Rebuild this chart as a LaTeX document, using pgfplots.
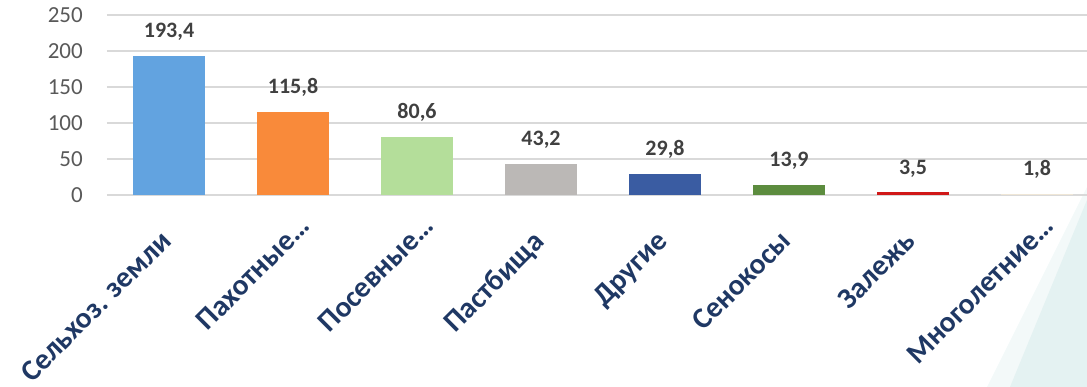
\documentclass[border=0pt]{standalone}
\usepackage{pgfplots}
\pgfplotsset{compat=1.18}
\usepackage{fontspec}
\setmainfont{Carlito}
\definecolor{c1}{HTML}{62A3E0}
\definecolor{c2}{HTML}{F98A3A}
\definecolor{c3}{HTML}{B4DE9A}
\definecolor{c4}{HTML}{BBB8B6}
\definecolor{c5}{HTML}{3A5CA2}
\definecolor{c6}{HTML}{5C8C3E}
\definecolor{c7}{HTML}{D01818}
\definecolor{c8}{HTML}{EFE6D6}
\definecolor{navy}{HTML}{1F3864}
\definecolor{ticktxt}{HTML}{595959}
\definecolor{lbl}{HTML}{404040}
\definecolor{gridc}{HTML}{D9D9D9}
\definecolor{tealbg}{HTML}{E4F2F2}
\definecolor{tealbg2}{HTML}{F3F9F9}
\begin{document}
\begin{tikzpicture}
\useasboundingbox (-107pt,-192pt) rectangle (980pt,195pt);
\fill[tealbg2] (880pt,-192pt) -- (980pt,8pt) -- (980pt,-192pt) -- cycle;
\fill[tealbg] (903pt,-192pt) -- (980pt,-5pt) -- (980pt,-192pt) -- cycle;
\begin{axis}[
  at={(0pt,0pt)}, anchor=south west,
  scale only axis, width=980pt, height=180pt,
  xmin=-0.5, xmax=7.403, ymin=0, ymax=250,
  ybar, bar width=72pt,
  axis line style={draw=none},
  major tick length=0pt,
  ytick={0,50,...,250},
  ymajorgrids, major grid style={color=gridc, line width=1.5pt},
  xtick={0,1,2,3,4,5,6,7},
  xticklabels={{Сельхоз. земли}, {Пахотные\rlap{…}}, {Посевные\rlap{…}}, {Пастбища}, {Другие}, {Сенокосы}, {Залежь}, {Многолетние\rlap{…}}},
  x tick label style={xshift=-10pt, yshift=-34pt, rotate=45, anchor=north east, inner sep=0pt, font=\bfseries\fontsize{29.5}{34}\selectfont, text=navy},
  y tick label style={font=\fontsize{23}{27}\selectfont, text=ticktxt, inner sep=0pt, xshift=-24pt},
  /pgf/number format/assume math mode=true,
  nodes near coords,
  nodes near coords style={font=\bfseries\fontsize{22}{26}\selectfont, text=lbl, anchor=base, yshift=18pt,
    /pgf/number format/.cd, fixed, fixed zerofill, precision=1, use comma},
  clip=false,
]
\addplot[fill=c1, draw=none, bar shift=0pt] coordinates {(0,193.4)};
\addplot[fill=c2, draw=none, bar shift=0pt] coordinates {(1,115.8)};
\addplot[fill=c3, draw=none, bar shift=0pt] coordinates {(2,80.6)};
\addplot[fill=c4, draw=none, bar shift=0pt] coordinates {(3,43.2)};
\addplot[fill=c5, draw=none, bar shift=0pt] coordinates {(4,29.8)};
\addplot[fill=c6, draw=none, bar shift=0pt] coordinates {(5,13.9)};
\addplot[fill=c7, draw=none, bar shift=0pt] coordinates {(6,3.5)};
\addplot[fill=c8, draw=none, bar shift=0pt] coordinates {(7,1.8)};
\end{axis}
\end{tikzpicture}
\end{document}
